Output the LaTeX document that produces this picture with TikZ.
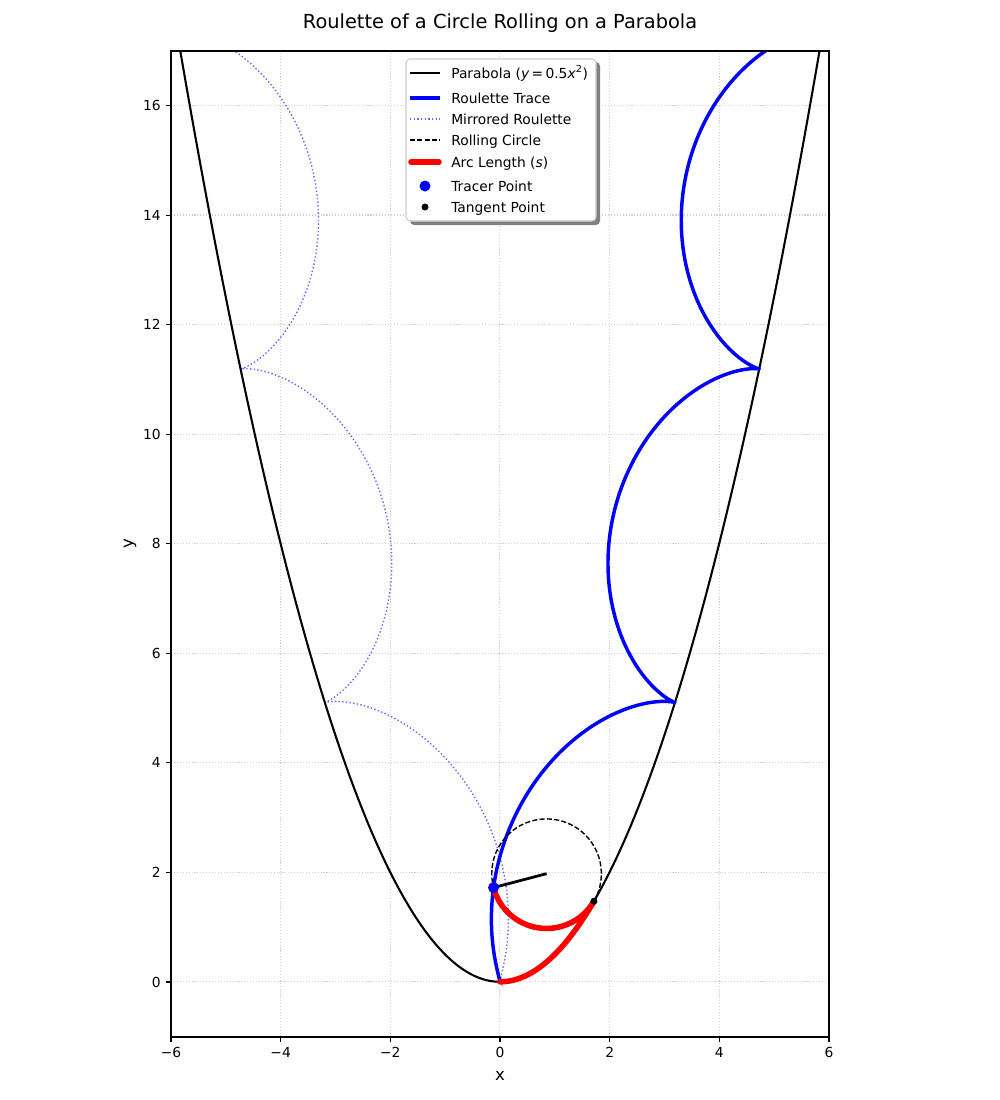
\documentclass[tikz,border=0pt]{standalone}
\usepackage{fontspec}
\setmainfont{DejaVu Sans}
\begin{document}
\begin{tikzpicture}[x=0.0254cm,y=-0.0254cm,
  declare function={
    sarc(\q)=0.5*(\q*sqrt(1+\q*\q)+ln(\q+sqrt(1+\q*\q)));
    qn(\q)=sqrt(1+\q*\q);
    rang(\q)=atan2(-1,\q)-deg(sarc(\q));
    rx(\q)=\q-\q/qn(\q)+cos(rang(\q));
    ry(\q)=0.5*\q*\q+1/qn(\q)+sin(rang(\q));
  },
  gridline/.style={draw=black!18, line width=0.8pt, dash pattern=on 0.8pt off 1.32pt},
  parab/.style={draw=black, line width=1.5pt},
  roul/.style={draw=blue, line width=2.5pt, line join=round},
  mirr/.style={draw=blue, draw opacity=0.6, line width=1pt, dash pattern=on 1pt off 1.65pt},
  rollc/.style={draw=black, line width=1pt, dash pattern=on 3.7pt off 1.6pt},
  arcl/.style={draw=red, line width=4pt, line cap=round, line join=round},
  radl/.style={draw=black, line width=2pt},
  tickl/.style={font=\fontsize{10}{12}\selectfont, inner sep=0pt},
  axl/.style={font=\fontsize{12}{14}\selectfont, inner sep=0pt},
  legt/.style={font=\fontsize{10}{12}\selectfont, inner sep=0pt, anchor=base west},
]
\useasboundingbox (0,0) rectangle (1000,1100);
\fill[white] (0,0) rectangle (1000,1100);

% title and axis labels
\node[font=\fontsize{14}{17}\selectfont, inner sep=0pt] (title) at (500,23) {Roulette of a Circle Rolling on a Parabola};
\node[axl] (xlab) at (500,1076) {x};
\node[axl, rotate=90] (ylab) at (130,544) {y};

% data region
\begin{scope}[shift={(12.7cm,-24.9428cm)}, x=1.39268cm, y=1.39141cm]
  \begin{scope}
    \clip (-6,-1) rectangle (6,17);
    \foreach \gx in {-6,-4,...,6} \draw[gridline] (\gx,-1) -- (\gx,17);
    \foreach \gy in {0,2,...,16} \draw[gridline] (-6,\gy) -- (6,\gy);
    \draw[parab] plot[domain=-6:6, samples=200, smooth, variable=\q] (\q,{0.5*\q*\q});
    \draw[roul] plot[domain=0:6.2, samples=700, variable=\q] ({rx(\q)},{ry(\q)});
    \draw[mirr] plot[domain=0:6.2, samples=700, variable=\q] ({-rx(\q)},{ry(\q)});
    \pgfmathsetmacro{\T}{1.715}
    \pgfmathsetmacro{\cxx}{\T-\T/qn(\T)}
    \pgfmathsetmacro{\cyy}{0.5*\T*\T+1/qn(\T)}
    \pgfmathsetmacro{\phic}{atan2(-1,\T)}
    \pgfmathsetmacro{\sdeg}{deg(sarc(\T))}
    \coordinate (ctr) at (\cxx,\cyy);
    \coordinate (tracer) at ({rx(\T)},{ry(\T)});
    \coordinate (tang) at (\T,{0.5*\T*\T});
    \draw[rollc] (ctr) circle[radius=1];
    \draw[radl] (tracer) -- (ctr);
    \draw[arcl] plot[domain=0:\T, samples=60, variable=\q] (\q,{0.5*\q*\q});
    \draw[arcl] plot[domain=0:1, samples=60, variable=\q] ({\cxx+cos(\phic-\sdeg*(1-\q))},{\cyy+sin(\phic-\sdeg*(1-\q))});
    \fill[blue] (tracer) circle[radius=0.1397cm];
    \fill[black] (tang) circle[radius=0.0889cm];
  \end{scope}
\end{scope}

% spines
\draw[line width=0.8pt] (171,51) rectangle (829,1037);
% ticks
\foreach \v/\l in {-6/−6,-4/−4,-2/−2,0/0,2/2,4/4,6/6}{
  \draw[line width=0.8pt] ({500+54.83*\v},1037) -- ({500+54.83*\v},1042);
  \node[tickl, anchor=north] (xt\v) at ({500+54.83*\v},1047) {\l};
}
\foreach \v in {0,2,...,16}{
  \draw[line width=0.8pt] (171,{982-54.78*\v}) -- (166,{982-54.78*\v});
  \node[tickl, anchor=east] (yt\v) at (161,{982-54.78*\v}) {\v};
}

% legend
\fill[black!50, rounded corners=3] (410,62) rectangle (600,225);
\draw[fill=white, draw=black!20, line width=0.8pt, rounded corners=3] (406,59) rectangle (596,221);
\draw[parab] (410,73) -- (440,73);
\node[legt] (l1) at (451,78) {Parabola (\textit{y}\,=\,0.5\textit{x}\textsuperscript{2})};
\draw[roul] (410,98) -- (440,98);
\node[legt] (l2) at (451,103) {Roulette Trace};
\draw[mirr] (410,119) -- (440,119);
\node[legt] (l3) at (451,124) {Mirrored Roulette};
\draw[rollc] (410,140) -- (440,140);
\node[legt] (l4) at (451,145) {Rolling Circle};
\draw[arcl] (411,162) -- (439,162);
\node[legt] (l5) at (451,167) {Arc Length (\textit{s})};
\fill[blue] (425,186) circle[radius=5.5];
\node[legt] (l6) at (451,191) {Tracer Point};
\fill[black] (425,207) circle[radius=3.5];
\node[legt] (l7) at (451,212) {Tangent Point};
\end{tikzpicture}
\end{document}
